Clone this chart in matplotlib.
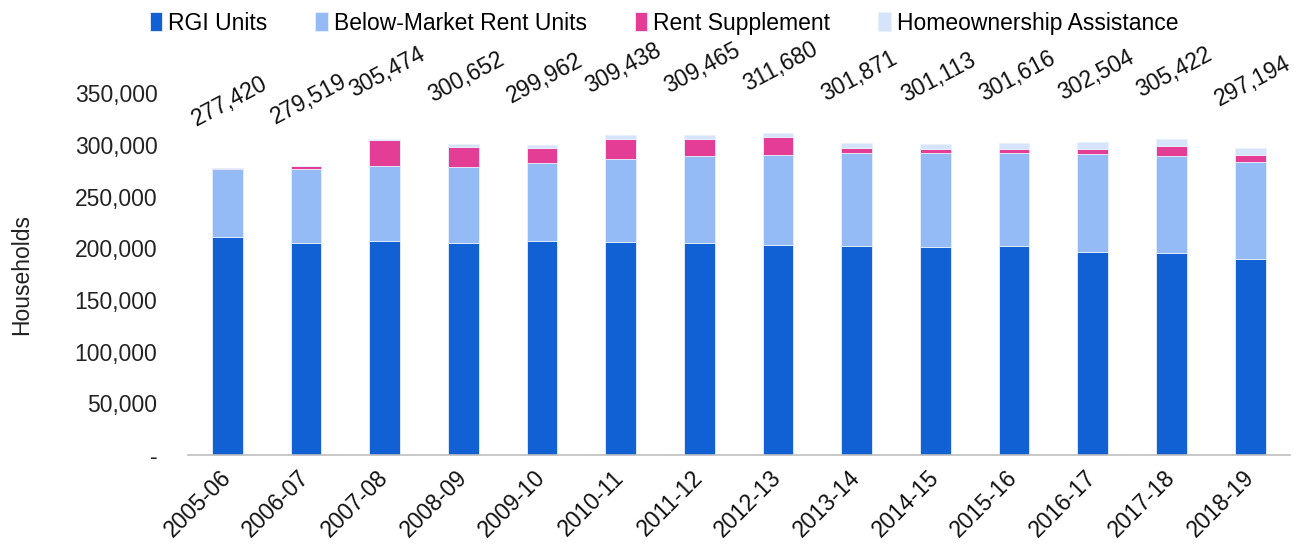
import matplotlib
matplotlib.use("Agg")
import matplotlib.pyplot as plt
import numpy as np

years = ["2005-06", "2006-07", "2007-08", "2008-09", "2009-10", "2010-11", "2011-12",
         "2012-13", "2013-14", "2014-15", "2015-16", "2016-17", "2017-18", "2018-19"]
rgi = [211000, 205300, 207200, 205300, 207200, 206000, 204700,
       203400, 202400, 200900, 201800, 196600, 195700, 189200]
below_market = [66000, 71300, 72300, 73200, 75500, 80000, 84500,
                87000, 90000, 91200, 90600, 94500, 93800, 93800]
rent_supp = [400, 2900, 25200, 19700, 14200, 19300, 16100,
             16800, 4500, 3500, 3900, 5200, 9300, 7100]
totals = [277420, 279519, 305474, 300652, 299962, 309438, 309465,
          311680, 301871, 301113, 301616, 302504, 305422, 297194]
homeown = [t - a - b - c for t, a, b, c in zip(totals, rgi, below_market, rent_supp)]

series_names = ["RGI Units", "Below-Market Rent Units", "Rent Supplement", "Homeownership Assistance"]
colors = ["#1160D4", "#95BBF7", "#E33D95", "#D5E3FB"]

plt.rcParams['font.family'] = ['Liberation Sans', 'DejaVu Sans']

fig = plt.figure(figsize=(12.99, 5.54), dpi=100)
ax = fig.add_axes([0.1447, 0.1787, 0.848, 0.653])

x = np.arange(len(years))
bottom = np.zeros(len(years))
handles = []
for vals, name, col in zip([rgi, below_market, rent_supp, homeown], series_names, colors):
    h = ax.bar(x, vals, width=0.39, bottom=bottom, color=col, label=name,
               edgecolor="#E8F0FD", linewidth=0.6)
    handles.append(h)
    bottom += np.array(vals)

for xi, t in zip(x, totals):
    ax.annotate(f"{t:,}", xy=(xi, t), xytext=(2, 48), textcoords="offset points",
                ha="center", va="center", rotation=28, fontsize=16.5, color="#111111",
                annotation_clip=False)

ax.set_xlim(-0.5, len(years) - 0.5)
ax.set_ylim(0, 350000)
ax.set_yticks(np.arange(0, 350001, 50000))
ax.set_yticklabels(["-"] + [f"{v:,}" for v in range(50000, 350001, 50000)], fontsize=16.5, color="#222222")
ax.set_xticks(x)
ax.set_xticklabels(years, rotation=45, ha="right", va="center", rotation_mode="anchor",
                   fontsize=16.5, color="#111111")
ax.tick_params(axis="x", length=0, pad=14)
ax.tick_params(axis="y", length=0, pad=22)
for s in ["top", "right", "left"]:
    ax.spines[s].set_visible(False)
ax.spines["bottom"].set_color("#BFBFBF")
ax.spines["bottom"].set_linewidth(1.2)

ax.set_ylabel("Households", fontsize=16.5, color="#222222", labelpad=30)

fig.legend(handles=handles, labels=series_names, loc="center", bbox_to_anchor=(0.511, 0.958),
           ncol=4, frameon=False, fontsize=16.5, handlelength=0.55, handleheight=0.9,
           handletextpad=0.25, columnspacing=2.1)

fig.savefig("out.png", dpi=100)
